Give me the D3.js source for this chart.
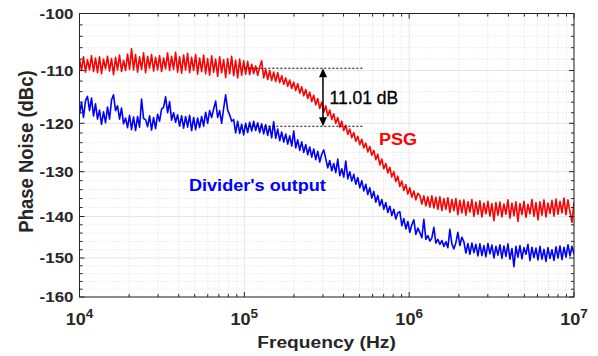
<!DOCTYPE html>
<html>
<head>
<meta charset="utf-8">
<script src="https://cdn.jsdelivr.net/npm/d3@7"></script>
<style>
  body { margin: 0; background: #fff; }
  svg { display: block; }
</style>
</head>
<body>
<svg id="chart" width="598" height="356"></svg>
<script>
// Offset frequency sweep (log-spaced samples between these limits)
const offsetStartHz = 1e4;
const offsetStopHz = 1e7;

// PSG phase noise, dBc/Hz
const psgPhaseNoise = [
  -107.9, -110.0, -107.6, -110.3, -108.1, -109.9, -107.4, -110.2, -107.8, -110.4,
  -107.6, -110.6, -108.0, -109.7, -107.5, -110.1, -107.9, -110.8, -107.7, -109.9,
  -107.3, -110.2, -108.2, -110.0, -107.1, -109.8, -106.2, -109.9, -107.2, -110.3,
  -107.6, -109.8, -106.9, -110.4, -107.5, -109.6, -107.2, -110.1, -107.7, -109.9,
  -107.4, -110.2, -107.8, -109.7, -106.9, -110.0, -107.5, -109.8, -106.8, -110.3,
  -107.6, -110.5, -107.3, -109.9, -107.0, -110.4, -107.7, -110.0, -107.2, -110.7,
  -107.8, -110.2, -107.3, -110.6, -107.9, -110.9, -107.4, -110.3, -108.0, -111.1,
  -107.6, -110.4, -108.1, -111.3, -107.9, -110.6, -107.5, -111.0, -108.2, -111.4,
  -108.0, -110.9, -108.3, -110.7, -108.4, -110.8, -108.9, -110.6, -109.2, -110.9,
  -109.4, -108.3, -111.4, -109.8, -111.7, -110.0, -111.9, -110.3, -112.1, -110.4,
  -112.3, -111.0, -112.6, -111.4, -113.0, -111.8, -113.4, -112.2, -113.8, -112.5,
  -114.3, -113.1, -114.8, -113.6, -115.3, -114.1, -115.9, -114.7, -116.5, -115.3,
  -117.2, -116.0, -117.9, -116.7, -118.6, -117.5, -119.3, -118.2, -120.0, -118.9,
  -120.8, -119.6, -121.5, -120.4, -122.3, -121.2, -123.0, -121.9, -123.7, -122.7,
  -124.4, -123.3, -125.1, -124.1, -125.9, -124.8, -126.6, -125.6, -127.5, -126.4,
  -128.6, -127.4, -129.4, -128.3, -130.3, -129.1, -131.2, -130.0, -132.2, -131.0,
  -133.3, -132.1, -134.2, -132.9, -135.0, -133.6, -135.7, -134.3, -136.3, -134.8,
  -135.3, -137.2, -135.4, -137.6, -135.6, -137.9, -135.4, -138.1, -135.7, -138.4,
  -135.6, -138.7, -136.0, -138.4, -135.8, -139.1, -136.2, -138.7, -136.0, -139.6,
  -136.4, -139.2, -136.3, -139.7, -136.7, -139.0, -136.2, -140.0, -136.8, -139.5,
  -136.5, -140.1, -137.0, -139.4, -136.6, -139.9, -137.1, -141.0, -136.9, -139.7,
  -136.8, -140.1, -137.2, -139.5, -136.3, -140.4, -137.0, -139.8, -136.7, -141.2,
  -137.1, -139.6, -136.6, -140.2, -137.3, -139.4, -136.2, -140.0, -136.9, -140.8,
  -136.7, -139.7, -136.3, -140.1, -137.0, -139.3, -136.4, -139.9, -136.1, -139.5,
  -136.6, -139.2, -135.9, -139.6, -136.3, -139.0, -141.4, -136.7
];

// Divider output phase noise, dBc/Hz
const dividerPhaseNoise = [
  -118.3, -116.0, -118.9, -115.7, -114.9, -117.6, -115.2, -118.6, -116.3, -119.2,
  -117.5, -120.2, -117.8, -119.9, -116.9, -119.2, -115.6, -114.6, -117.6, -116.7,
  -119.2, -117.1, -120.1, -119.0, -120.9, -118.5, -121.3, -118.8, -121.5, -118.7,
  -120.8, -115.4, -119.1, -119.3, -120.7, -118.6, -121.4, -118.9, -121.1, -118.3,
  -119.6, -117.3, -117.0, -115.0, -118.0, -115.9, -119.4, -118.0, -119.8, -118.4,
  -120.6, -118.6, -121.0, -118.7, -120.8, -118.5, -121.5, -118.9, -121.3, -119.0,
  -120.9, -118.7, -120.6, -117.9, -120.0, -117.6, -118.9, -117.3, -115.8, -118.9,
  -117.6, -120.0, -117.2, -114.6, -117.5, -118.4, -119.6, -119.3, -122.0, -119.6,
  -122.1, -120.2, -122.4, -120.0, -121.9, -119.8, -121.6, -119.6, -121.5, -119.9,
  -121.9, -120.1, -122.2, -120.3, -122.5, -120.6, -123.0, -119.7, -123.1, -121.2,
  -123.6, -121.8, -123.9, -122.2, -124.3, -122.6, -124.7, -121.6, -125.1, -123.4,
  -125.6, -123.8, -126.0, -124.4, -126.5, -124.9, -127.0, -125.3, -127.5, -125.8,
  -128.0, -126.4, -125.5, -127.3, -129.2, -127.7, -129.8, -128.3, -130.2, -127.4,
  -130.9, -129.4, -131.2, -127.8, -131.6, -130.0, -132.1, -130.6, -132.8, -131.3,
  -133.6, -132.0, -134.3, -132.8, -135.1, -133.6, -135.9, -134.4, -136.8, -135.3,
  -137.6, -136.2, -138.4, -136.9, -139.1, -137.7, -139.8, -138.4, -140.6, -139.2,
  -138.9, -142.2, -140.5, -143.0, -141.2, -143.8, -142.0, -140.8, -144.3, -142.8,
  -143.9, -145.1, -140.7, -145.5, -144.6, -145.9, -145.2, -142.6, -146.4, -145.5,
  -146.7, -145.8, -147.2, -146.1, -147.5, -143.1, -146.6, -147.8, -146.3, -143.8,
  -147.0, -145.0, -146.1, -148.8, -146.5, -149.1, -146.4, -148.7, -146.7, -149.5,
  -146.6, -149.4, -147.0, -149.7, -146.5, -149.0, -146.9, -150.0, -147.2, -149.3,
  -146.8, -150.1, -147.1, -149.6, -146.6, -150.3, -147.7, -152.2, -147.2, -149.8,
  -147.0, -150.2, -147.5, -149.1, -146.7, -150.7, -147.4, -149.9, -147.6, -150.5,
  -147.2, -150.3, -147.9, -150.9, -147.5, -150.1, -148.0, -150.6, -147.3, -150.0,
  -147.1, -150.4, -147.4, -149.8, -146.8, -149.5, -147.2, -149.1
];

// Axis ticks and labels
const xMajorTicks = [1e4, 1e5, 1e6, 1e7];
const xTickExponents = ["4", "5", "6", "7"];
const yMajorTicks = [-160, -150, -140, -130, -120, -110, -100];
const yMinorStep = 2;

// Difference marker between the two plateaus
const markerLevels = [-109.6, -120.61];
const markerSpanHz = [1e5, 5.2e5];
const markerArrowHz = 3e5;
const markerText = "11.01 dB";

const seriesNames = ["PSG", "Divider's output"];
const seriesColors = ["#ff0000", "#0000ff"];

const axisLabelX = "Frequency (Hz)";
const axisLabelY = "Phase Noise (dBc)";

// ---------------------------------------------------------------
const svg = d3.select("#chart");
const ink = "#262626";
const wide = 1.13;   // horizontal glyph stretch used throughout the figure

const plot = { left: 79.5, right: 574, top: 13.5, bottom: 297 };

const x = d3.scaleLog().domain([offsetStartHz, offsetStopHz]).range([plot.left, plot.right]);
// vertical axis drawn with a piecewise mapping between the decade gridlines
const y = d3.scaleLinear()
  .domain(yMajorTicks)
  .range([297, 258, 216.5, 171.7, 123.3, 70.5, 13.5]);

const nPts = psgPhaseNoise.length;
const freqHz = d3.range(nPts).map(i =>
  offsetStartHz * Math.pow(offsetStopHz / offsetStartHz, i / (nPts - 1)));

const xMinor = [];
for (let d = 4; d < 7; d++) for (let m = 2; m <= 9; m++) xMinor.push(m * Math.pow(10, d));
const yMinor = d3.range(yMajorTicks[0], yMajorTicks[yMajorTicks.length - 1] + 0.1, yMinorStep)
  .filter(v => yMajorTicks.indexOf(v) < 0);

// grid
const grid = svg.append("g");
grid.selectAll(".gxm").data(xMinor).join("line")
  .attr("x1", d => x(d)).attr("x2", d => x(d))
  .attr("y1", plot.top).attr("y2", plot.bottom)
  .attr("stroke", "#d4d4d4").attr("stroke-width", 0.8).attr("stroke-dasharray", "1,2");
grid.selectAll(".gym").data(yMinor).join("line")
  .attr("x1", plot.left).attr("x2", plot.right)
  .attr("y1", d => y(d)).attr("y2", d => y(d))
  .attr("stroke", "#d4d4d4").attr("stroke-width", 0.8).attr("stroke-dasharray", "1,2");
grid.selectAll(".gx").data(xMajorTicks).join("line")
  .attr("x1", d => x(d)).attr("x2", d => x(d))
  .attr("y1", plot.top).attr("y2", plot.bottom)
  .attr("stroke", "#e6e6e6").attr("stroke-width", 1);
grid.selectAll(".gy").data(yMajorTicks).join("line")
  .attr("x1", plot.left).attr("x2", plot.right)
  .attr("y1", d => y(d)).attr("y2", d => y(d))
  .attr("stroke", "#e6e6e6").attr("stroke-width", 1);

// traces
svg.append("clipPath").attr("id", "plotClip").append("rect")
  .attr("x", plot.left).attr("y", plot.top)
  .attr("width", plot.right - plot.left).attr("height", plot.bottom - plot.top);

const line = d3.line().x((d, i) => x(freqHz[i])).y(d => y(d));
const traces = svg.append("g").attr("clip-path", "url(#plotClip)");
[psgPhaseNoise, dividerPhaseNoise].forEach((s, k) => {
  traces.append("path").datum(s)
    .attr("d", line)
    .attr("fill", "none")
    .attr("stroke", seriesColors[k])
    .attr("stroke-width", 1.6)
    .attr("stroke-linejoin", "round");
});

// box and ticks on all four sides
const axes = svg.append("g").attr("stroke", ink).attr("stroke-width", 1);
axes.append("rect")
  .attr("x", plot.left).attr("y", plot.top)
  .attr("width", plot.right - plot.left).attr("height", plot.bottom - plot.top)
  .attr("fill", "none");
const tickX = (vals, len) => {
  axes.selectAll(null).data(vals).join("line")
    .attr("x1", d => x(d)).attr("x2", d => x(d))
    .attr("y1", plot.bottom).attr("y2", plot.bottom - len);
  axes.selectAll(null).data(vals).join("line")
    .attr("x1", d => x(d)).attr("x2", d => x(d))
    .attr("y1", plot.top).attr("y2", plot.top + len);
};
const tickY = (vals, len) => {
  axes.selectAll(null).data(vals).join("line")
    .attr("x1", plot.left).attr("x2", plot.left + len)
    .attr("y1", d => y(d)).attr("y2", d => y(d));
  axes.selectAll(null).data(vals).join("line")
    .attr("x1", plot.right).attr("x2", plot.right - len)
    .attr("y1", d => y(d)).attr("y2", d => y(d));
};
tickX(xMajorTicks, 5); tickX(xMinor, 3);
tickY(yMajorTicks, 5); tickY(yMinor, 3);

// tick labels
const font = "'Liberation Sans', Arial, Helvetica, sans-serif";
svg.append("g").selectAll("text").data(yMajorTicks).join("text")
  .attr("transform", d => `translate(73.5,${y(d)}) scale(${wide},1)`)
  .attr("dy", "0.36em")
  .attr("text-anchor", "end")
  .attr("font-family", font).attr("font-weight", "bold").attr("font-size", 15)
  .attr("fill", ink)
  .text(d => d);

const xl = svg.append("g").selectAll("text").data(xMajorTicks).join("text")
  .attr("transform", d => `translate(${x(d)},325) scale(${wide},1)`)
  .attr("text-anchor", "middle")
  .attr("font-family", font).attr("font-weight", "bold").attr("font-size", 16)
  .attr("fill", ink);
xl.append("tspan").text("10");
xl.append("tspan").attr("dy", -7).attr("font-size", 12).text((d, i) => xTickExponents[i]);

// axis titles
svg.append("text")
  .attr("transform", `translate(326.5,348) scale(${wide},1)`)
  .attr("text-anchor", "middle")
  .attr("font-family", font).attr("font-weight", "bold").attr("font-size", 17)
  .attr("fill", ink)
  .text(axisLabelX);
svg.append("text")
  .attr("transform", `translate(33,151.5) scale(${wide},1) rotate(-90)`)
  .attr("text-anchor", "middle")
  .attr("font-family", font).attr("font-weight", "bold").attr("font-size", 18.5)
  .attr("fill", ink)
  .text(axisLabelY);

// plateau difference marker
const mk = svg.append("g");
markerLevels.forEach(v => {
  mk.append("line")
    .attr("x1", x(markerSpanHz[0])).attr("x2", x(markerSpanHz[1]))
    .attr("y1", y(v)).attr("y2", y(v))
    .attr("stroke", "#000").attr("stroke-width", 1).attr("stroke-dasharray", "2,2");
});
const ax = x(markerArrowHz), yTop = y(markerLevels[0]), yBot = y(markerLevels[1]);
const headL = 9, headW = 4;
mk.append("line")
  .attr("x1", ax).attr("x2", ax)
  .attr("y1", yTop + headL - 1).attr("y2", yBot - headL + 1)
  .attr("stroke", "#000").attr("stroke-width", 1.5);
mk.append("path")
  .attr("d", `M${ax},${yTop}L${ax - headW},${yTop + headL}L${ax + headW},${yTop + headL}Z`)
  .attr("fill", "#000");
mk.append("path")
  .attr("d", `M${ax},${yBot}L${ax - headW},${yBot - headL}L${ax + headW},${yBot - headL}Z`)
  .attr("fill", "#000");
mk.append("text")
  .attr("x", ax + 6.5).attr("y", (yTop + yBot) / 2 + 6.5)
  .attr("font-family", font).attr("font-size", 17.5)
  .attr("fill", "#000")
  .attr("stroke", "#000").attr("stroke-width", 0.3)
  .text(markerText);

// series labels
svg.append("text")
  .attr("transform", `translate(379,145) scale(${wide},1)`)
  .attr("font-family", font).attr("font-weight", "bold").attr("font-size", 16)
  .attr("fill", seriesColors[0])
  .text(seriesNames[0]);
svg.append("text")
  .attr("transform", `translate(189,190.5) scale(${wide},1)`)
  .attr("font-family", font).attr("font-weight", "bold").attr("font-size", 16)
  .attr("fill", seriesColors[1])
  .text(seriesNames[1]);
</script>
</body>
</html>
